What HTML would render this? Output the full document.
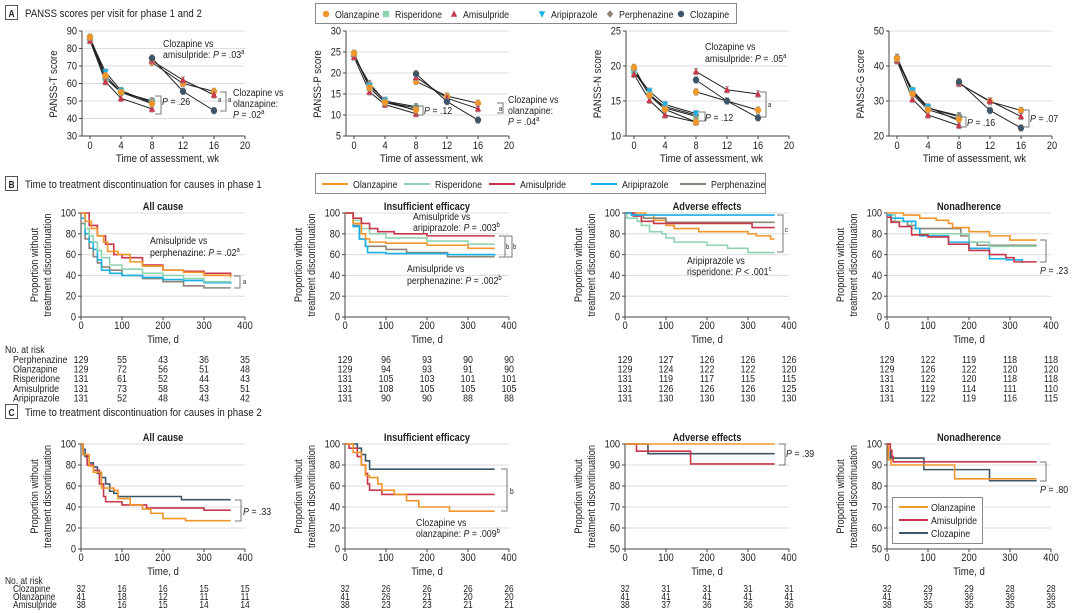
<!DOCTYPE html>
<html><head><meta charset="utf-8"><style>
html,body{margin:0;padding:0;background:#fff;width:1080px;height:613px;overflow:hidden}
svg{display:block;font-family:"Liberation Sans",sans-serif}
</style></head><body>
<svg id="s" width="1080" height="613" viewBox="0 0 1080 613" xmlns="http://www.w3.org/2000/svg"></svg>
<script>
const S=document.getElementById('s');let h='';
const C={o:'#f0962a',r:'#8fd3b0',a:'#c8374a',p:'#1ab0e8',e:'#8c8475',c:'#3d5566'};
function T(x,y,t,o){o=o||{};h+=`<text transform="translate(${x} ${y}) ${o.r?'rotate(-90)':''} scale(0.84 1)" font-size="${o.fs||10}" fill="${o.f||'#222'}" text-anchor="${o.a||'start'}" ${o.w?'font-weight="bold"':''}>${t}</text>`;}
function L(x1,y1,x2,y2,c,w){h+=`<line x1="${x1}" y1="${y1}" x2="${x2}" y2="${y2}" stroke="${c||'#444'}" stroke-width="${w||1}"/>`;}
function P(pts,c,w){h+=`<polyline points="${pts.map(p=>p.join(',')).join(' ')}" fill="none" stroke="${c}" stroke-width="${w||1}"/>`;}
function br(x,y1,y2){h+=`<polyline points="${x-6},${y1} ${x},${y1} ${x},${y2} ${x-6},${y2}" fill="none" stroke="#777" stroke-width="1"/>`;}
function mk(t,x,y,c){const s=3.2;
 if(t=='o'||t=='c')h+=`<circle cx="${x}" cy="${y}" r="${s}" fill="${c}"/>`;
 else if(t=='r')h+=`<rect x="${x-s}" y="${y-s}" width="${2*s}" height="${2*s}" fill="${c}"/>`;
 else if(t=='a')h+=`<polygon points="${x},${y-s-0.5} ${x+s},${y+s-0.5} ${x-s},${y+s-0.5}" fill="${c}"/>`;
 else if(t=='p')h+=`<polygon points="${x},${y+s+0.5} ${x+s},${y-s+0.5} ${x-s},${y-s+0.5}" fill="${c}"/>`;
 else h+=`<polygon points="${x},${y-s-0.5} ${x+s},${y} ${x},${y+s+0.5} ${x-s},${y}" fill="${c}"/>`;}
function sec(y,l,t){h+=`<rect x="5.5" y="${y-11.5}" width="12" height="14" fill="#fff" stroke="#555"/>`;T(11.5,y,l,{a:'middle',w:1,fs:10});T(25,y,t,{fs:11.5});}
sec(17,'A','PANSS scores per visit for phase 1 and 2');
sec(188,'B','Time to treatment discontinuation for causes in phase 1');
sec(416,'C','Time to treatment discontinuation for causes in phase 2');
h+=`<rect x="315.5" y="3.5" width="421" height="20" fill="#fff" stroke="#888"/>`;
[['o',326,'Olanzapine'],['r',386,'Risperidone'],['a',454,'Amisulpride'],['p',542,'Aripiprazole'],['e',610,'Perphenazine'],['c',681,'Clozapine']].forEach(d=>{mk(d[0],d[1],14,C[d[0]]);T(d[1]+9,18,d[2],{fs:10.5});});
h+=`<rect x="315.5" y="173.5" width="450" height="20" fill="#fff" stroke="#888"/>`;
[['o',322,'Olanzapine'],['r',404,'Risperidone'],['a',489,'Amisulpride'],['p',591,'Aripiprazole'],['e',680,'Perphenazine']].forEach(d=>{L(d[1],184,d[1]+26,184,C[d[0]],2);T(d[1]+31,188,d[2],{fs:10.5});});
function A(x0,mn,mx,st,lab,d1,d2){const xs=7.75,X=v=>x0+v*xs,Y=v=>136-(v-mn)/(mx-mn)*105,ax=x0-8;
 for(let v=mn;v<=mx;v+=st){if(v>mn)L(ax,Y(v),X(20),Y(v),'#ddd');L(ax-3,Y(v),ax,Y(v),'#444');T(ax-5,Y(v)+3.5,v,{a:'end',fs:11});}
 L(ax,31,ax,136,'#444');L(ax,136,X(20),136,'#444');
 for(let v=0;v<=20;v+=4){L(X(v),136,X(v),139,'#444');T(X(v),149,v,{a:'middle',fs:11});}
 T(X(10),162,'Time of assessment, wk',{a:'middle',fs:11.5});T(x0-33,84,lab,{a:'middle',r:1,fs:11.5});
 const eb=(mx-mn)*0.03;
 for(const k in d1){const v=d1[k],w=[0,2,4,8];P(v.map((y,i)=>[X(w[i]),Y(y)]),'#222',1);}
 for(const k in d2){const v=d2[k],w=[8,12,16];P(v.map((y,i)=>[X(w[i]),Y(y)]),'#222',1);}
 const pm=(d,w)=>{for(const k in d)d[k].forEach((y,i)=>{const x=X(w[i]);L(x,Y(y+eb),x,Y(y-eb),'#999');L(x-2,Y(y+eb),x+2,Y(y+eb),'#999');L(x-2,Y(y-eb),x+2,Y(y-eb),'#999');mk(k,x,Y(y),C[k]);});};
 pm(d1,[0,2,4,8]);pm(d2,[8,12,16]);}
A(90,30,90,10,'PANSS-T score',{r:[86,63,55,50],e:[85,63,55,50],p:[85.5,66.5,56,49],a:[84.5,61,51.5,45.5],o:[86.5,64.5,55,48.5]},{o:[72,60,55.5],a:[73,62,53.5],c:[74.5,55.5,44.5]});
A(354,5,30,5,'PANSS-P score',{r:[24.5,16.5,13,11.7],e:[24,17.5,13.3,12],p:[24.2,17,13.5,11],a:[23.8,15.5,12.5,10.3],o:[24.7,16.5,13,11.2]},{o:[18,14.5,12.8],a:[19,14,11.5],c:[19.8,13.2,8.8]});
A(634,10,25,5,'PANSS-N score',{r:[19.2,16,14,12.8],e:[19.5,15.8,14.2,13],p:[19.2,16.4,14.5,13.2],a:[18.8,15.1,13,12],o:[19.8,15.8,13.8,12]},{o:[16.3,15,13.7],a:[19.2,16.6,16],c:[18,15,12.6]});
A(897,20,50,10,'PANSS-G score',{r:[42,33,28,25.5],e:[42.5,32.5,28,25.8],p:[41.5,33,28.3,24.3],a:[41.5,30.5,26,23],o:[42.2,32,27.5,24.8]},{o:[35,29.8,27.3],a:[35,30,25.6],c:[35.5,27.3,22.3]});
const Pi='<tspan font-style="italic">P</tspan>',sp=s=>`<tspan font-size="7" dy="-4">${s}</tspan>`;
T(163,47,'Clozapine vs',{fs:10.5});T(163,58,`amisulpride: ${Pi} = .03${sp('a')}`,{fs:10.5});
br(161,96,114);T(162,105,`${Pi} = .26`,{fs:10.5});
br(226,92,111);T(218,102,'a',{fs:7});T(228,102,'a',{fs:7});
T(233,96,'Clozapine vs',{fs:10.5});T(233,107,'olanzapine:',{fs:10.5});T(233,118,`${Pi} = .02${sp('a')}`,{fs:10.5});
br(423,106,115);T(424,114,`${Pi} = .12`,{fs:10.5});
br(503,103,113);T(499,111,'a',{fs:7});
T(508,103,'Clozapine vs',{fs:10.5});T(508,114,'olanzapine:',{fs:10.5});T(508,125,`${Pi} = .04${sp('a')}`,{fs:10.5});
T(705,50,'Clozapine vs',{fs:10.5});T(705,62,`amisulpride: ${Pi} = .05${sp('a')}`,{fs:10.5});
br(766,92,117);T(768,107,'a',{fs:7});
br(705,112,121);T(705,121,`${Pi} = .12`,{fs:10.5});
br(966,117,127);T(967,126,`${Pi} = .16`,{fs:10.5});
br(1029,110,127);T(1030,122,`${Pi} = .07`,{fs:10.5});
function K(x0,yt,yb,mn,ticks,title,series){const X=v=>x0+v*0.41,Y=v=>yb-(v-mn)/(100-mn)*(yb-yt);
 ticks.forEach(v=>{if(v>mn)L(x0,Y(v),X(400),Y(v),'#ddd');L(x0-3,Y(v),x0,Y(v),'#444');T(x0-5,Y(v)+3.5,v,{a:'end',fs:11});});
 L(x0,yt,x0,yb,'#444');L(x0,yb,X(400),yb,'#444');
 [0,100,200,300,400].forEach(v=>{L(X(v),yb,X(v),yb+3,'#444');T(X(v),yb+12,v,{a:'middle',fs:11});});
 T(X(200),yb+26,'Time, d',{a:'middle',fs:11.5});T(X(200),yt-3,title,{a:'middle',w:1,fs:11});
 const cy=(yt+yb)/2;T(x0-43,cy,'Proportion without',{a:'middle',r:1,fs:11});T(x0-30,cy,'treatment discontinuation',{a:'middle',r:1,fs:11});
 series.forEach(([k,d])=>{const pts=[];d.forEach((p,i)=>{if(i>0)pts.push([X(p[0]),Y(d[i-1][1])]);pts.push([X(p[0]),Y(p[1])]);});P(pts,C[k],1.6);});}
const t100=[0,20,40,60,80,100];
const pr=s=>s.trim().split(/\s+/).map(q=>q.split(':').map(Number));
K(81,213,317,0,t100,'All cause',[
['e',pr('0:90 10:75 20:66 30:58 40:52 50:48 70:45 100:40 150:37 200:34 250:30 300:28 365:28')],
['p',pr('0:95 10:80 20:72 30:65 40:55 50:45 70:42 100:40 150:38 200:36 250:35 300:33 365:32')],
['r',pr('0:100 10:85 20:78 30:72 40:64 50:57 70:50 100:46 150:42 200:40 250:37 300:34 365:33')],
['a',pr('0:100 20:88 40:78 60:70 80:60 100:57 150:50 200:45 250:44 300:42 365:40')],
['o',pr('0:100 10:92 25:85 40:78 55:72 65:63 90:60 120:53 150:49 200:45 250:43 300:40 365:38')]]);
K(345,213,317,0,t100,'Insufficient efficacy',[
['e',pr('0:100 20:88 35:75 50:68 100:65 150:62 250:58 365:58')],
['p',pr('0:100 20:87 35:75 50:68 55:62 100:61 250:60 365:59')],
['r',pr('0:100 20:93 40:85 60:80 100:76 200:73 300:70 365:70')],
['o',pr('0:100 20:90 40:80 50:75 60:72 100:71 200:69 300:66 365:66')],
['a',pr('0:100 20:95 40:90 60:85 80:82 120:80 200:78 365:78')]]);
K(625,213,317,0,t100,'Adverse effects',[
['r',pr('0:100 5:95 30:92 40:88 60:82 90:80 100:76 120:72 200:69 250:66 300:62 365:62')],
['o',pr('0:100 50:98 70:93 100:88 120:85 180:82 300:80 320:78 355:75 365:75')],
['e',pr('0:100 25:98 45:95 100:91 365:91')],
['a',pr('0:100 20:97 40:92 70:90 310:90 310:86 365:86')],
['p',pr('0:100 15:98 365:98')]]);
K(887,213,317,0,t100,'Nonadherence',[
['e',pr('0:98 10:92 50:88 70:85 170:85 180:78 200:72 220:69 365:69')],
['r',pr('0:98 20:92 60:85 80:80 180:80 200:72 250:68 365:68')],
['p',pr('0:98 10:95 40:92 70:85 80:78 150:72 200:66 250:56 290:55 330:52')],
['a',pr('0:96 10:91 30:87 60:79 100:77 150:70 200:64 250:60 290:57 310:53 365:53')],
['o',pr('0:100 40:98 80:95 120:93 150:90 160:86 200:82 250:78 300:74 365:74')]]);
K(81,444,549,0,t100,'All cause',[
['c',pr('0:100 5:95 10:88 20:82 30:78 40:72 50:68 60:62 70:55 80:53 90:50 245:47 365:47')],
['a',pr('0:100 5:90 15:80 30:75 45:62 55:50 60:45 100:42 160:39 300:37 365:37')],
['o',pr('0:100 5:90 20:79 30:73 50:58 80:56 90:48 120:42 150:38 170:34 200:29 255:27 365:27')]]);
K(345,444,549,0,t100,'Insufficient efficacy',[
['c',pr('0:100 25:100 30:96 40:90 50:84 60:76 365:76')],
['a',pr('0:100 10:96 30:88 40:80 50:72 55:62 60:56 90:52 365:52')],
['o',pr('0:100 20:92 40:80 50:70 60:68 80:62 90:56 120:52 150:46 180:40 255:36 365:36')]]);
const t50=[50,60,70,80,90,100];
K(625,444,549,50,t50,'Adverse effects',[
['c',pr('0:100 56:95.4 365:95.4')],['a',pr('0:100 28:96.6 160:90.5 365:90.5')],['o',pr('0:100 365:100')]]);
K(887,444,549,50,t50,'Nonadherence',[
['c',pr('0:100 8:93.3 90:87.8 250:82.5 365:82.5')],['o',pr('0:100 3:92.5 10:90 165:83.4 365:83.4')],['a',pr('0:100 8:97 12:94 15:91.5 365:91.5')]]);
T(150,244,'Amisulpride vs',{fs:10.5});T(150,256,`perphenazine: ${Pi} = .02${sp('a')}`,{fs:10.5});
br(240,276,288);T(243,284,'a',{fs:7});
T(413,220,'Amisulpride vs',{fs:10.5});T(413,231,`aripiprazole: ${Pi} = .003${sp('b')}`,{fs:10.5});
br(505,236,257);br(512,236,257);T(506,249,'b',{fs:7});T(513,249,'b',{fs:7});
T(407,272,'Amisulpride vs',{fs:10.5});T(407,284,`perphenazine: ${Pi} = .002${sp('b')}`,{fs:10.5});
br(783,215,252);T(785,232,'c',{fs:7});
T(687,264,'Aripiprazole vs',{fs:10.5});T(687,275,`risperidone: ${Pi} &lt; .001${sp('c')}`,{fs:10.5});
br(1046,240,262);T(1040,274,`${Pi} = .23`,{fs:10.5});
br(241,500,521);T(243,515,`${Pi} = .33`,{fs:10.5});
br(507,469,511);T(510,494,'b',{fs:8});
T(416,526,'Clozapine vs',{fs:10.5});T(416,537,`olanzapine: ${Pi} = .009${sp('b')}`,{fs:10.5});
br(785,444,465);T(786,457,`${Pi} = .39`,{fs:10.5});
br(1046,462,481);T(1040,493,`${Pi} = .80`,{fs:10.5});
h+=`<rect x="892.5" y="497.5" width="90" height="46" fill="#fff" stroke="#888"/>`;
[['o','Olanzapine',507],['a','Amisulpride',520],['c','Clozapine',533]].forEach(d=>{L(899,d[2],928,d[2],C[d[0]],2);T(931,d[2]+4,d[1],{fs:10.5});});
T(5,353,'No. at risk',{fs:10.5});
const bn=['Perphenazine','Olanzapine','Risperidone','Amisulpride','Aripiprazole'];
const B=[[ '129 55 43 36 35','129 72 56 51 48','131 61 52 44 43','131 73 58 53 51','131 52 48 43 42'],
['129 96 93 90 90','129 94 93 91 90','131 105 103 101 101','131 108 105 105 105','131 90 90 88 88'],
['129 127 126 126 126','129 124 122 122 120','131 119 117 115 115','131 126 126 126 125','131 130 130 130 130'],
['129 122 119 118 118','129 126 122 120 120','131 122 120 118 118','131 119 114 111 110','131 122 119 116 115']];
const xs0=[81,345,625,887];
bn.forEach((n,i)=>{const y=363+i*9.6;T(13,y,n,{fs:10.5});B.forEach((tb,j)=>tb[i].split(' ').forEach((v,k)=>T(xs0[j]+k*41,y,v,{a:'middle',fs:10.5})));});
T(5,584,'No. at risk',{fs:10});
const cn=['Clozapine','Olanzapine','Amisulpride'];
const CC=[['32 16 16 15 15','41 18 12 11 11','38 16 15 14 14'],['32 26 26 26 26','41 26 21 20 20','38 23 23 21 21'],['32 31 31 31 31','41 41 41 41 41','38 37 36 36 36'],['32 29 29 28 28','41 37 36 36 36','38 35 35 35 35']];
cn.forEach((n,i)=>{const y=592+i*8;T(13,y,n,{fs:10});CC.forEach((tb,j)=>tb[i].split(' ').forEach((v,k)=>T(xs0[j]+k*41,y,v,{a:'middle',fs:10})));});
S.innerHTML=h;
</script>
</body></html>
